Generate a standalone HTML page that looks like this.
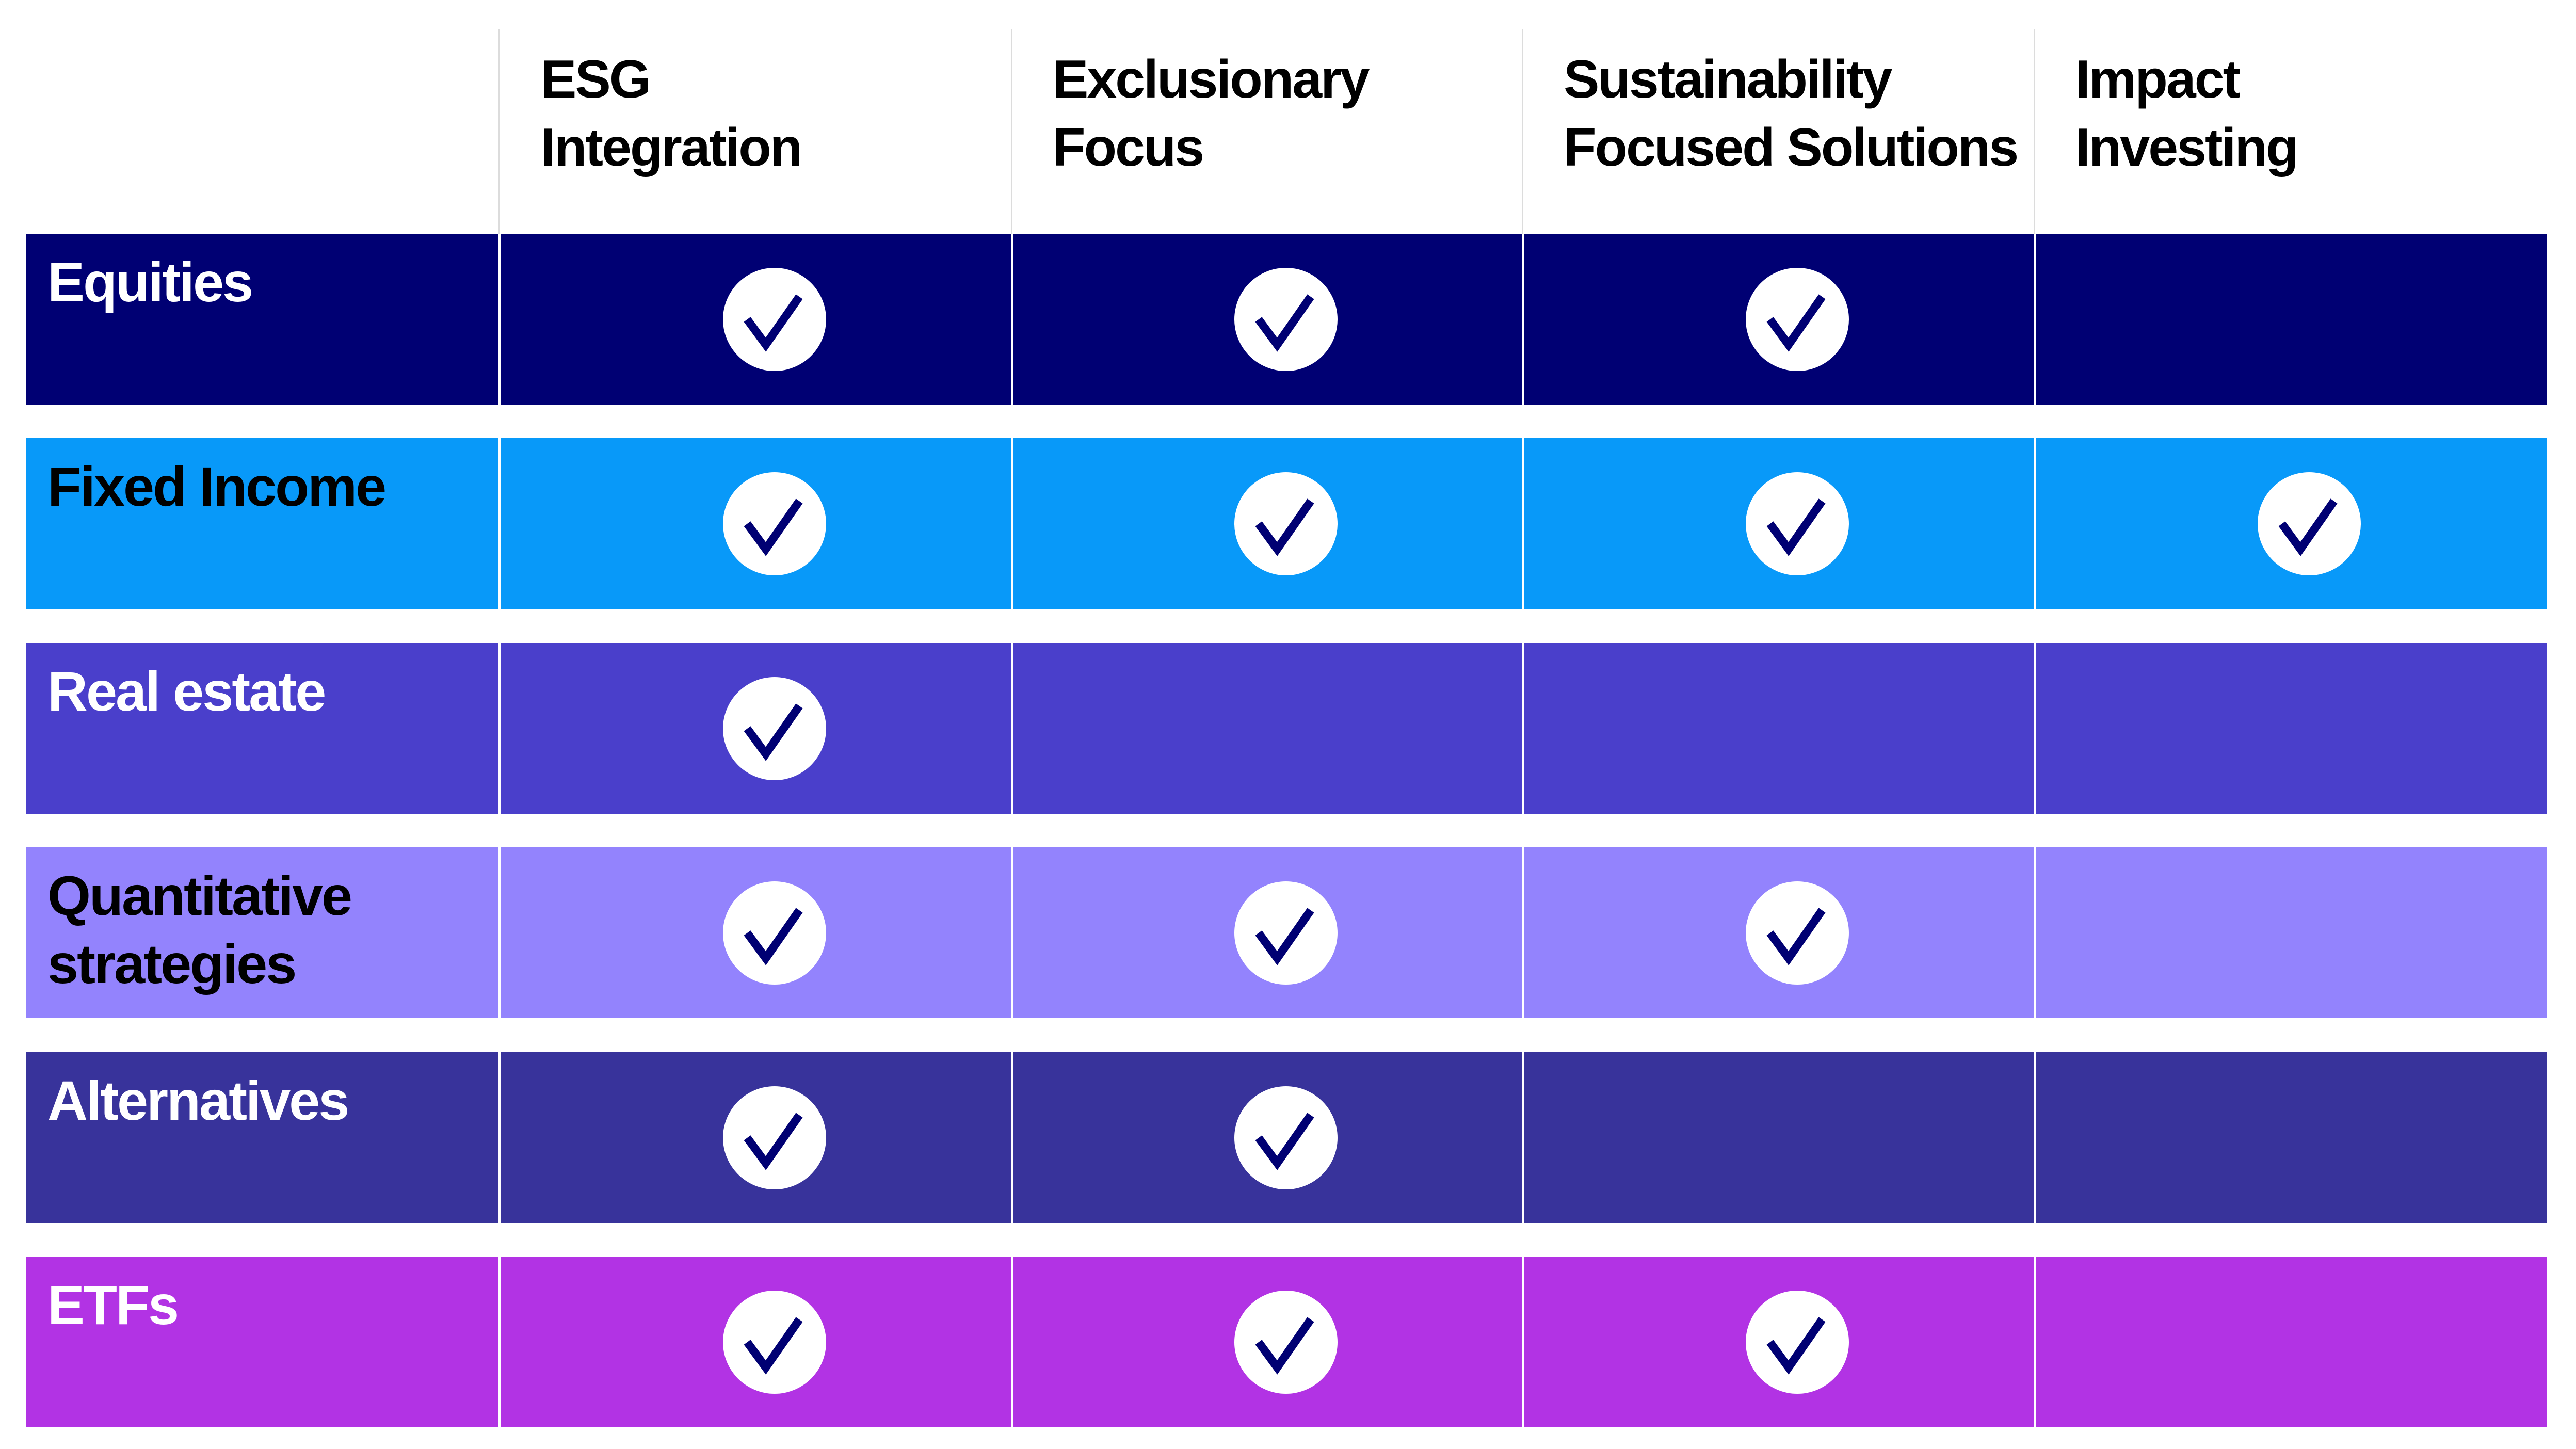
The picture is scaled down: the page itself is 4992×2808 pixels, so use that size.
<!DOCTYPE html>
<html><head><meta charset="utf-8"><style>
html,body{margin:0;padding:0;background:#fff}
body{width:4992px;height:2808px;position:relative;overflow:hidden;font-family:"Liberation Sans",sans-serif}
.vl{position:absolute;top:57px;height:396px;width:3px;background:#dcdcdc}
.h{position:absolute;top:88px;font-size:104px;font-weight:bold;line-height:132px;color:#000;letter-spacing:-3px}
.row{position:absolute;left:51px;width:4884px;height:331px}
.lab{position:absolute;left:41px;top:28px;font-size:108px;font-weight:bold;line-height:132px;letter-spacing:-3px}
.sep{position:absolute;top:0;height:331px;width:4px;background:#fff}
svg.c{position:absolute;top:66px;width:200px;height:200px}
</style></head><body>
<div class="vl" style="left:966px"></div>
<div class="vl" style="left:1959px"></div>
<div class="vl" style="left:2949px"></div>
<div class="vl" style="left:3941px"></div>
<div class="h" style="left:1048px">ESG<br>Integration</div>
<div class="h" style="left:2040px">Exclusionary<br>Focus</div>
<div class="h" style="left:3030px">Sustainability<br>Focused Solutions</div>
<div class="h" style="left:4022px">Impact<br>Investing</div>

<svg width="0" height="0" style="position:absolute"><defs>
<g id="ck"><circle cx="100" cy="100" r="100" fill="#fff"/><polyline points="47,100 83,149 148,56" fill="none" stroke="#000073" stroke-width="16" stroke-linejoin="miter"/></g>
</defs></svg>

<div class="row" style="top:453px;background:#000073;color:#fff">
<div class="lab">Equities</div>
<div class="sep" style="left:915px"></div><div class="sep" style="left:1908px"></div><div class="sep" style="left:2898px"></div><div class="sep" style="left:3890px"></div>
<svg class="c" style="left:1350px"><use href="#ck"/></svg>
<svg class="c" style="left:2341px"><use href="#ck"/></svg>
<svg class="c" style="left:3332px"><use href="#ck"/></svg>
</div>

<div class="row" style="top:849px;background:#0899f9;color:#000">
<div class="lab">Fixed Income</div>
<div class="sep" style="left:915px"></div><div class="sep" style="left:1908px"></div><div class="sep" style="left:2898px"></div><div class="sep" style="left:3890px"></div>
<svg class="c" style="left:1350px"><use href="#ck"/></svg>
<svg class="c" style="left:2341px"><use href="#ck"/></svg>
<svg class="c" style="left:3332px"><use href="#ck"/></svg>
<svg class="c" style="left:4324px"><use href="#ck"/></svg>
</div>

<div class="row" style="top:1246px;background:#4a3fcb;color:#fff">
<div class="lab">Real estate</div>
<div class="sep" style="left:915px"></div><div class="sep" style="left:1908px"></div><div class="sep" style="left:2898px"></div><div class="sep" style="left:3890px"></div>
<svg class="c" style="left:1350px"><use href="#ck"/></svg>
</div>

<div class="row" style="top:1642px;background:#9383fd;color:#000">
<div class="lab">Quantitative<br>strategies</div>
<div class="sep" style="left:915px"></div><div class="sep" style="left:1908px"></div><div class="sep" style="left:2898px"></div><div class="sep" style="left:3890px"></div>
<svg class="c" style="left:1350px"><use href="#ck"/></svg>
<svg class="c" style="left:2341px"><use href="#ck"/></svg>
<svg class="c" style="left:3332px"><use href="#ck"/></svg>
</div>

<div class="row" style="top:2039px;background:#38339b;color:#fff">
<div class="lab">Alternatives</div>
<div class="sep" style="left:915px"></div><div class="sep" style="left:1908px"></div><div class="sep" style="left:2898px"></div><div class="sep" style="left:3890px"></div>
<svg class="c" style="left:1350px"><use href="#ck"/></svg>
<svg class="c" style="left:2341px"><use href="#ck"/></svg>
</div>

<div class="row" style="top:2435px;background:#b233e4;color:#fff">
<div class="lab">ETFs</div>
<div class="sep" style="left:915px"></div><div class="sep" style="left:1908px"></div><div class="sep" style="left:2898px"></div><div class="sep" style="left:3890px"></div>
<svg class="c" style="left:1350px"><use href="#ck"/></svg>
<svg class="c" style="left:2341px"><use href="#ck"/></svg>
<svg class="c" style="left:3332px"><use href="#ck"/></svg>
</div>
</body></html>
